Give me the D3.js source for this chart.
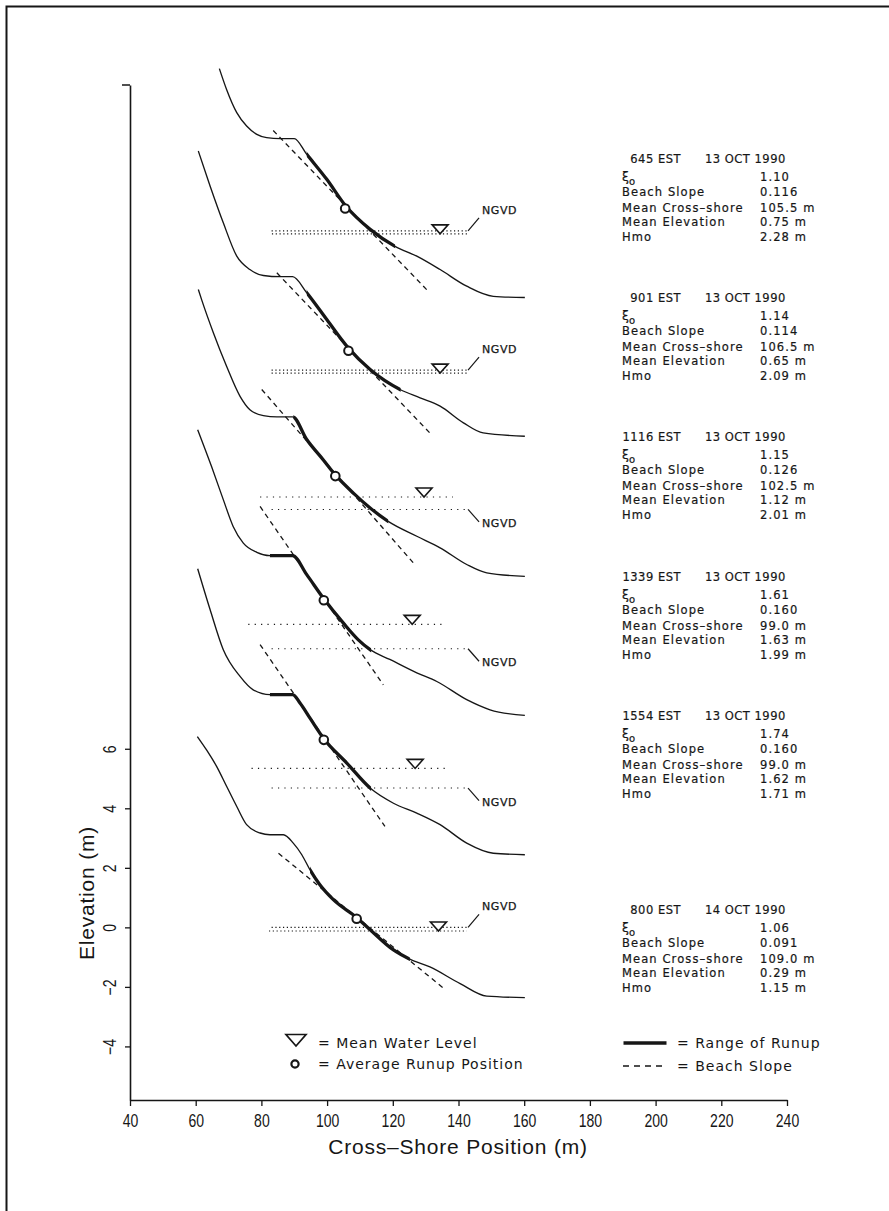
<!DOCTYPE html>
<html><head><meta charset="utf-8">
<script src="https://cdn.jsdelivr.net/npm/d3@7"></script>
<style>
html,body{margin:0;padding:0;background:#fff;}
svg{display:block;}
</style></head>
<body><svg id="c" width="889" height="1211"></svg>
<script>
// ---------- data ----------
const runTimes  = ["645 EST","901 EST","1116 EST","1339 EST","1554 EST","800 EST"];
const runDates  = ["13 OCT 1990","13 OCT 1990","13 OCT 1990","13 OCT 1990","13 OCT 1990","14 OCT 1990"];
const xi0       = ["1.10","1.14","1.15","1.61","1.74","1.06"];
const beachSlope= ["0.116","0.114","0.126","0.160","0.160","0.091"];
const meanCross = [105.5,106.5,102.5,99.0,99.0,109.0];
const meanElev  = [0.75,0.65,1.12,1.63,1.62,0.29];
const hmo       = [2.28,2.09,2.01,1.99,1.71,1.15];
const stackOffset = [23.4,18.72,14.04,9.36,4.68,0];

const profile645 = [[67.2,5.45],[69.4,4.75],[72.5,3.97],[75.5,3.52],[78.6,3.24],[81.6,3.13],[85.7,3.10],[90.0,3.10],[93.8,2.57],[99.9,1.73],[105.5,0.86],[113.1,0.05],[120.7,-0.52],[127.3,-0.85],[134.4,-1.30],[142.5,-1.86],[150.6,-2.20],[160.2,-2.24]];
const profile901 = [[60.8,7.36],[64.4,6.18],[68.4,4.95],[72.5,3.83],[76.5,3.38],[80.6,3.18],[85.7,3.14],[89.5,3.14],[93.8,2.60],[99.9,1.70],[106.5,0.74],[113.1,0.02],[122.2,-0.65],[128.3,-0.93],[134.4,-1.21],[141.5,-1.77],[147.5,-2.11],[160.2,-2.22]];
const profile1116= [[60.8,7.39],[61.8,7.05],[65.4,5.93],[69.4,4.81],[73.5,3.80],[76.5,3.35],[80.6,3.15],[84.7,3.11],[89.5,3.11],[93.8,2.35],[98.8,1.67],[102.5,1.16],[108.0,0.55],[113.1,0.05],[118.6,-0.40],[127.3,-0.90],[134.4,-1.29],[142.5,-1.85],[148.6,-2.13],[160.2,-2.25]];
const profile1339= [[60.6,7.36],[64.8,6.13],[68.4,5.01],[71.4,4.11],[74.5,3.55],[78.6,3.24],[82.6,3.13],[89.5,3.13],[93.8,2.49],[99.0,1.68],[104.9,0.87],[109.5,0.30],[113.1,-0.03],[119.1,-0.36],[127.3,-0.81],[133.4,-1.10],[142.5,-1.71],[149.6,-2.05],[160.2,-2.24]];
const profile1554= [[60.6,7.37],[64.4,5.99],[68.4,4.65],[73.5,3.75],[77.5,3.30],[82.6,3.14],[89.5,3.14],[91.8,2.85],[94.8,2.35],[99.0,1.66],[106.0,0.84],[113.1,0.00],[120.2,-0.51],[127.3,-0.84],[134.4,-1.23],[142.5,-1.85],[150.6,-2.19],[160.2,-2.24]];
const profile800 = [[60.5,6.41],[63.3,5.96],[66.4,5.40],[69.4,4.74],[72.5,4.06],[75.5,3.45],[79.6,3.17],[82.6,3.11],[86.7,3.11],[89.7,2.83],[92.3,2.44],[94.8,1.93],[97.8,1.43],[101.9,0.93],[109.0,0.33],[113.1,-0.08],[120.2,-0.76],[125.2,-1.07],[131.3,-1.33],[140.5,-1.89],[148.6,-2.31],[160.2,-2.36]];
const profiles = [profile645,profile901,profile1116,profile1339,profile1554,profile800];

const runupRange = [[93.8,120.7],[93.8,122.4],[89.7,118.6],[82.6,113.4],[82.6,113.4],[94.8,125.2]];
const slopeLineEnds = [[[83.6,3.37],[130.8,-2.03]],[[84.7,3.27],[131.8,-2.17]],[[80.1,4.03],[126.3,-1.80]],[[79.6,4.78],[117.1,-1.21]],[[79.6,4.82],[117.6,-1.29]],[[85.2,2.49],[135.4,-2.04]]];
const mwlLevel   = [-0.1,-0.1,0.42,0.82,0.66,-0.12];
const mwlMarkerX = [134.4,134.4,129.5,125.9,126.8,133.9];
const mwlExtent  = [[83.2,142.9],[83.1,142.9],[79.6,138.3],[76.0,134.9],[77.0,135.9],[82.3,142.5]];
const ngvdExtent = [83.1,142.6];
const ngvdLabelAbove = [true,true,false,false,false,true];

const xTicks = [40,60,80,100,120,140,160,180,200,220,240];
const yTicks = [-4,-2,0,2,4,6];

// ---------- drawing ----------
const ink = "#161616";
const svg = d3.select("#c");
const x = d3.scaleLinear().domain([40,240]).range([130,787]);
const y = d3.scaleLinear().domain([-5.8,28.3]).range([1100,85]);

svg.append("rect").attr("width",889).attr("height",1211).attr("fill","#fff");
svg.append("path").attr("d","M6.5,1211V6.5H889").attr("fill","none").attr("stroke",ink).attr("stroke-width",2);

// x axis
const gx = svg.append("g").attr("transform",`translate(0,${y(-5.8)})`)
  .call(d3.axisBottom(x).tickValues(xTicks).tickSize(6).tickSizeOuter(0).tickPadding(8));
gx.select(".domain").attr("stroke",ink).attr("stroke-width",1.6);
gx.selectAll(".tick line").attr("stroke",ink).attr("stroke-width",1.3);
gx.selectAll(".tick text").attr("fill",ink).attr("font-family","Liberation Sans, Arial, sans-serif")
  .attr("font-size",18).attr("transform","scale(0.78,1)");

// y axis
const gy = svg.append("g").attr("transform",`translate(${x(40)},0)`)
  .call(d3.axisLeft(y).tickValues(yTicks).tickSize(5).tickSizeOuter(0));
gy.select(".domain").attr("stroke",ink).attr("stroke-width",1.6);
gy.selectAll(".tick line").attr("stroke",ink).attr("stroke-width",1.3);
gy.selectAll(".tick text").attr("fill",ink).attr("font-family","Liberation Sans, Arial, sans-serif")
  .attr("font-size",18).attr("x",0).attr("y",-14).attr("dy",0)
  .attr("text-anchor","middle").attr("transform","rotate(-90) scale(0.78,1)");
svg.append("line").attr("x1",x(40)-8).attr("x2",x(40)).attr("y1",y(28.3)).attr("y2",y(28.3))
  .attr("stroke",ink).attr("stroke-width",1.5);

// axis titles
svg.append("text").attr("x",458).attr("y",1154).attr("text-anchor","middle")
  .attr("font-family","Liberation Sans, Arial, sans-serif").attr("font-size",21).attr("letter-spacing",0.8)
  .attr("fill",ink).text("Cross–Shore Position (m)");
svg.append("text").attr("transform","translate(94,893) rotate(-90)").attr("text-anchor","middle")
  .attr("font-family","Liberation Sans, Arial, sans-serif").attr("font-size",21).attr("letter-spacing",0.8)
  .attr("fill",ink).text("Elevation (m)");

const defs = svg.append("defs");
const blockFont = "DejaVu Sans, Verdana, sans-serif";

profiles.forEach((pts,i)=>{
  const off = stackOffset[i];
  const g = svg.append("g");
  const line = d3.line().x(d=>x(d[0])).y(d=>y(d[1]+off)).curve(d3.curveMonotoneX);
  const dense = (i===0||i===1||i===5);

  // NGVD dotted line
  g.append("line").attr("x1",x(ngvdExtent[0])).attr("x2",x(ngvdExtent[1]))
    .attr("y1",y(off)).attr("y2",y(off)).attr("stroke",ink).attr("stroke-width",1.1)
    .attr("stroke-dasharray", dense ? "1.2,2.6" : "1.2,5.2");
  // MWL dotted line
  g.append("line").attr("x1",x(mwlExtent[i][0])).attr("x2",x(mwlExtent[i][1]))
    .attr("y1",y(off+mwlLevel[i])).attr("y2",y(off+mwlLevel[i])).attr("stroke",ink).attr("stroke-width",1.1)
    .attr("stroke-dasharray", dense ? "1.2,2.6" : "1.2,5.2");

  // profile
  g.append("path").attr("d",line(pts)).attr("fill","none").attr("stroke",ink).attr("stroke-width",1.35);
  // runup range (thick)
  const cid = "clip"+i;
  defs.append("clipPath").attr("id",cid).append("rect")
    .attr("x",x(runupRange[i][0])).attr("width",x(runupRange[i][1])-x(runupRange[i][0]))
    .attr("y",y(off+9)).attr("height",y(off-4)-y(off+9));
  g.append("path").attr("d",line(pts)).attr("fill","none").attr("stroke",ink).attr("stroke-width",3.3)
    .attr("clip-path",`url(#${cid})`);
  // beach slope
  const sl = slopeLineEnds[i];
  g.append("line").attr("x1",x(sl[0][0])).attr("y1",y(sl[0][1]+off)).attr("x2",x(sl[1][0])).attr("y2",y(sl[1][1]+off))
    .attr("stroke",ink).attr("stroke-width",1.3).attr("stroke-dasharray","5,4");

  // MWL triangle
  g.append("path").attr("transform",`translate(${x(mwlMarkerX[i])},${y(off+mwlLevel[i])})`)
    .attr("d","M-8,-9L8,-9L0,0Z").attr("fill","#fff").attr("stroke",ink).attr("stroke-width",1.6);
  // average runup circle
  g.append("circle").attr("cx",x(meanCross[i])).attr("cy",y(meanElev[i]+off)).attr("r",4.3)
    .attr("fill","#fff").attr("stroke",ink).attr("stroke-width",2);

  // NGVD label
  const lx = x(ngvdExtent[1])+1, ly = y(off);
  const up = ngvdLabelAbove[i];
  g.append("line").attr("x1",lx).attr("y1",ly).attr("x2",lx+11).attr("y2",up?ly-13:ly+12.5)
    .attr("stroke",ink).attr("stroke-width",1.2);
  g.append("text").attr("x",lx+14).attr("y",up?ly-17:ly+17.5).attr("font-family",blockFont)
    .attr("font-size",11).attr("letter-spacing",0.6).attr("fill",ink)
    .attr("stroke",ink).attr("stroke-width",0.25).text("NGVD");

  // info block
  const hy = i<5 ? y(off)-72 : y(off)-17.5;
  const tb = g.append("g").attr("font-family",blockFont).attr("fill",ink).attr("font-size",11.5)
    .attr("stroke",ink).attr("stroke-width",0.2);
  tb.append("text").attr("x",681).attr("y",hy+4).attr("text-anchor","end").attr("letter-spacing",0.5).text(runTimes[i]);
  tb.append("text").attr("x",705).attr("y",hy+4).attr("letter-spacing",0.5).text(runDates[i]);
  tb.append("text").attr("x",622).attr("y",hy+22).attr("font-size",12.5).text("ξ");
  tb.append("text").attr("x",629).attr("y",hy+26).attr("font-size",10).text("o");
  const rows = [
    [18, null, xi0[i]],
    [33, "Beach Slope", beachSlope[i]],
    [49, "Mean Cross–shore", meanCross[i].toFixed(1)+" m"],
    [63, "Mean Elevation", meanElev[i].toFixed(2)+" m"],
    [78, "Hmo", hmo[i].toFixed(2)+" m"]
  ];
  rows.forEach(r=>{
    if(r[1]) tb.append("text").attr("x",622).attr("y",hy+r[0]+4).attr("letter-spacing",1.1).text(r[1]);
    tb.append("text").attr("x",760).attr("y",hy+r[0]+4).attr("letter-spacing",1.1).text(r[2]);
  });
});

// legend
const lg = svg.append("g").attr("font-family",blockFont).attr("font-size",14).attr("fill",ink).attr("letter-spacing",1);
lg.append("path").attr("transform","translate(296,1046)").attr("d","M-10,-11.5L10,-11.5L0,0Z")
  .attr("fill","#fff").attr("stroke",ink).attr("stroke-width",1.7);
lg.append("text").attr("x",318).attr("y",1048).text("= Mean Water Level");
lg.append("circle").attr("cx",295).attr("cy",1064).attr("r",3.6).attr("fill","#fff").attr("stroke",ink).attr("stroke-width",2.2);
lg.append("text").attr("x",318).attr("y",1069).text("= Average Runup Position");
lg.append("line").attr("x1",623.5).attr("x2",666.5).attr("y1",1043).attr("y2",1043).attr("stroke",ink).attr("stroke-width",3.5);
lg.append("text").attr("x",677).attr("y",1048).text("= Range of Runup");
lg.append("line").attr("x1",623).attr("x2",664).attr("y1",1066).attr("y2",1066).attr("stroke",ink).attr("stroke-width",1.3).attr("stroke-dasharray","6,5");
lg.append("text").attr("x",677).attr("y",1071).text("= Beach Slope");
</script>
</body></html>
